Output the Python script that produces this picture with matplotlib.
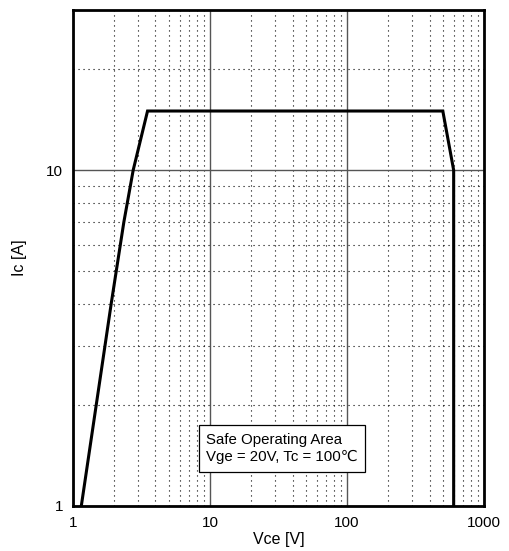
import matplotlib
matplotlib.use('Agg')
import matplotlib.pyplot as plt
from matplotlib.ticker import LogLocator, FixedLocator, NullFormatter

plt.rcParams['font.family'] = ['Liberation Sans', 'DejaVu Sans']

# safe operating area boundary
Vce = [1.15, 1.9, 2.35, 2.75, 3.5, 500, 600, 600]
Ic = [1, 4, 7, 10, 15, 15, 10, 1]

xticks = [1, 10, 100, 1000]
yticks = [1, 10]

fig = plt.figure(figsize=(5.09, 5.51), dpi=100)
ax = fig.add_axes([0.1434, 0.0817, 0.8076, 0.9003])

ax.set_xscale('log')
ax.set_yscale('log')
ax.set_xlim(1, 1000)
ax.set_ylim(1, 30)

ax.plot(Vce, Ic, color='black', lw=2.2, solid_joinstyle='miter', zorder=3)

ax.xaxis.set_major_locator(FixedLocator(xticks))
ax.yaxis.set_major_locator(FixedLocator(yticks))
ax.set_xticklabels([str(t) for t in xticks])
ax.set_yticklabels([str(t) for t in yticks])
ax.xaxis.set_minor_locator(LogLocator(base=10, subs=range(2, 10)))
ax.yaxis.set_minor_locator(LogLocator(base=10, subs=range(2, 10)))
ax.xaxis.set_minor_formatter(NullFormatter())
ax.yaxis.set_minor_formatter(NullFormatter())

ax.grid(which='major', color='#555555', lw=1.0, ls='-')
ax.grid(which='minor', color='black', lw=0.8, ls=(0, (1, 3.5)))
ax.tick_params(which='both', length=0, labelsize=11, pad=7)

for s in ax.spines.values():
    s.set_linewidth(2)

ax.set_xlabel('Vce [V]', fontsize=11.5, labelpad=2)
ax.set_ylabel('Ic [A]', fontsize=11.5, labelpad=14)

ax.text(9.4, 1.33, 'Safe Operating Area\nVge = 20V, Tc = 100\u2103', fontsize=10.8,
        linespacing=1.3, va='bottom', ha='left', zorder=4,
        bbox=dict(boxstyle='square,pad=0.5', facecolor='white', edgecolor='black', lw=0.9))

fig.savefig('out.png', dpi=100)
